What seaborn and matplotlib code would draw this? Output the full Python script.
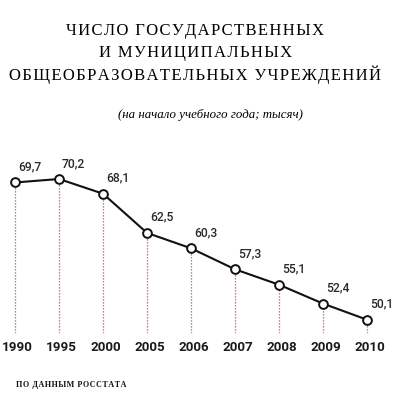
import matplotlib
matplotlib.use("Agg")
import matplotlib.pyplot as plt
import matplotlib.transforms as mtransforms
import seaborn as sns
import pandas as pd

years = ["1990", "1995", "2000", "2005", "2006", "2007", "2008", "2009", "2010"]
values = [69.7, 70.2, 68.1, 62.5, 60.3, 57.3, 55.1, 52.4, 50.1]
labels = ["69,7", "70,2", "68,1", "62,5", "60,3", "57,3", "55,1", "52,4", "50,1"]

title_lines = ["ЧИСЛО ГОСУДАРСТВЕННЫХ", "И МУНИЦИПАЛЬНЫХ", "ОБЩЕОБРАЗОВАТЕЛЬНЫХ УЧРЕЖДЕНИЙ"]
subtitle = "(на начало учебного года; тысяч)"
source = "ПО ДАННЫМ РОССТАТА"

df = pd.DataFrame({"year": years, "value": values})

sns.set_theme(style="white")
plt.rcParams["font.family"] = ["DejaVu Sans"]

SANS = ["Roboto", "DejaVu Sans"]


def spaced(s, sep="\u200a"):
    return sep.join(s)


fig = plt.figure(figsize=(4, 4), dpi=100)
ax = fig.add_axes([0, 0.1675, 1, 0.4825])

ymin = 48.2
ax.vlines(range(len(years)), ymin, df["value"], colors="#e04545",
          linestyles=(0, (1, 1.4)), linewidth=0.9, zorder=1)

sns.pointplot(data=df, x="year", y="value", ax=ax, color="#111111",
              markers="o", linewidth=1.5, markersize=6.3,
              markerfacecolor="white", markeredgecolor="#111111",
              markeredgewidth=1.4, errorbar=None, zorder=3)

for i, (v, t) in enumerate(zip(values, labels)):
    ax.annotate(t, (i, v), xytext=(2, 6.5), textcoords="offset points",
                ha="left", va="bottom", fontsize=8.7, color="#2a2a2a",
                fontfamily=SANS, fontweight="medium")

ax.set_xlim(-15 / 44, 385 / 44)
ax.set_ylim(ymin, 75.77)
ax.set_xlabel("")
ax.set_ylabel("")
ax.set_yticks([])
ax.tick_params(axis="x", length=0, pad=6)
shift = mtransforms.ScaledTranslation(2.5 / 100, 0, fig.dpi_scale_trans)
for lab in ax.get_xticklabels():
    lab.set_fontsize(9.6)
    lab.set_fontweight("bold")
    lab.set_fontfamily(SANS)
    lab.set_color("#1a1a1a")
    lab.set_transform(lab.get_transform() + shift)
for s in ax.spines.values():
    s.set_visible(False)
ax.patch.set_alpha(0)

for k, line in enumerate(title_lines):
    fig.text(0.488, 1 - (31 + 22 * k) / 400, spaced(line), ha="center", va="center",
             fontsize=12, fontfamily="Liberation Serif", color="#000000")
fig.text(210 / 400, 1 - 115 / 400, subtitle, ha="center", va="center",
         fontsize=9.3, fontfamily="Liberation Serif", style="italic", color="#000000")
fig.text(16 / 400, 1 - 385 / 400, spaced(source), ha="left", va="center",
         fontsize=5.8, fontfamily="Liberation Serif", fontweight="bold", color="#111111")

fig.savefig("out.png", dpi=100)
